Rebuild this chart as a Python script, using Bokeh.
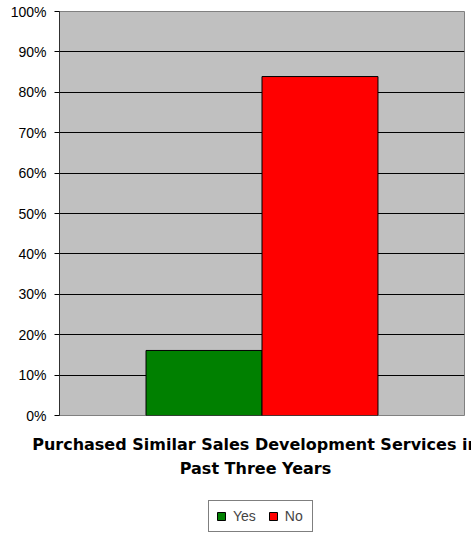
from bokeh.plotting import figure
from bokeh.models import (ColumnDataSource, Range1d, FixedTicker, Legend, LegendItem, Label)
from bokeh.layouts import column
from bokeh.embed import file_html
from bokeh.resources import INLINE
import numpy as np

# ---- data ----
categories = ["Yes", "No"]
values = [16.1, 83.9]          # percent
colors = ["#008000", "#FF0000"]
tick_values = [0, 10, 20, 30, 40, 50, 60, 70, 80, 90, 100]
tick_labels = ["0%", "10%", "20%", "30%", "40%", "50%", "60%", "70%", "80%", "90%", "100%"]
title_lines = ["Purchased Similar Sales Development Services in", "Past Three Years"]

pos = np.arange(len(categories)) + 0.5
src = ColumnDataSource(dict(x=pos, top=values, cat=categories, color=colors))

W = 471
p = figure(width=W, height=425, output_backend="svg", toolbar_location=None,
           x_range=Range1d(-0.746, len(categories) + 0.746), y_range=Range1d(0, 100),
           min_border_left=59, min_border_right=7, min_border_top=11, min_border_bottom=10)

p.background_fill_color = "#C0C0C0"
p.border_fill_color = "white"
p.outline_line_color = "#808080"
p.outline_line_width = 1

r = p.vbar(x="x", top="top", width=1.0, bottom=0, source=src,
           fill_color="color", line_color="black", line_width=1)

# grid (0% line doubles as the black category axis line)
p.xgrid.visible = False
p.ygrid.ticker = FixedTicker(ticks=tick_values[:-1])
p.ygrid.grid_line_color = "black"
p.ygrid.grid_line_width = 1
p.xaxis.visible = False

# y axis
ya = p.yaxis[0]
ya.ticker = FixedTicker(ticks=tick_values)
ya.major_label_overrides = {v: l for v, l in zip(tick_values, tick_labels)}
ya.major_label_text_font = "Liberation Sans"
ya.major_label_text_font_size = "14px"
ya.major_label_text_color = "black"
ya.major_tick_out = 5
ya.major_tick_in = 0
ya.minor_tick_line_color = None
ya.major_tick_line_color = "black"
ya.axis_line_color = "#303030"
ya.major_label_standoff = 8

# ---- lower panel: category title + legend (bars kept out of view) ----
p2 = figure(width=W, height=109, output_backend="svg", toolbar_location=None,
            x_range=Range1d(-30, -20), y_range=Range1d(-30, -20),
            x_axis_location=None, y_axis_location=None,
            min_border_left=0, min_border_right=0, min_border_top=0, min_border_bottom=0)
p2.outline_line_color = None
p2.background_fill_color = "white"
p2.border_fill_color = "white"
p2.grid.visible = False

for fig in (p, p2):
    if "frame_align" in fig.properties():
        fig.frame_align = False

r2 = p2.vbar(x="x", top="top", width=1.0, bottom=0, source=src,
             fill_color="color", line_color="black", line_width=1)

for i, (txt, yb) in enumerate(zip(title_lines, [90, 66])):
    p2.add_layout(Label(x=255, y=yb, x_units="screen", y_units="screen", text=txt,
                        text_align="center", text_baseline="alphabetic",
                        text_font="DejaVu Sans", text_font_style="bold",
                        text_font_size="16px", text_color="black"))

legend = Legend(items=[LegendItem(label=c, renderers=[r2], index=i) for i, c in enumerate(categories)],
                orientation="horizontal", location=(208, 2))
legend.label_text_font = "Liberation Sans"
legend.label_text_font_size = "14px"
legend.glyph_width = 10
legend.glyph_height = 10
legend.label_standoff = 7
legend.spacing = 12
legend.padding = 7
legend.margin = 0
legend.border_line_color = "black"
legend.border_line_width = 1
legend.background_fill_color = "white"
legend.background_fill_alpha = 1
p2.add_layout(legend, "center")

layout = column(p, p2, spacing=0)
open("out.html", "w").write(file_html(layout, INLINE))
